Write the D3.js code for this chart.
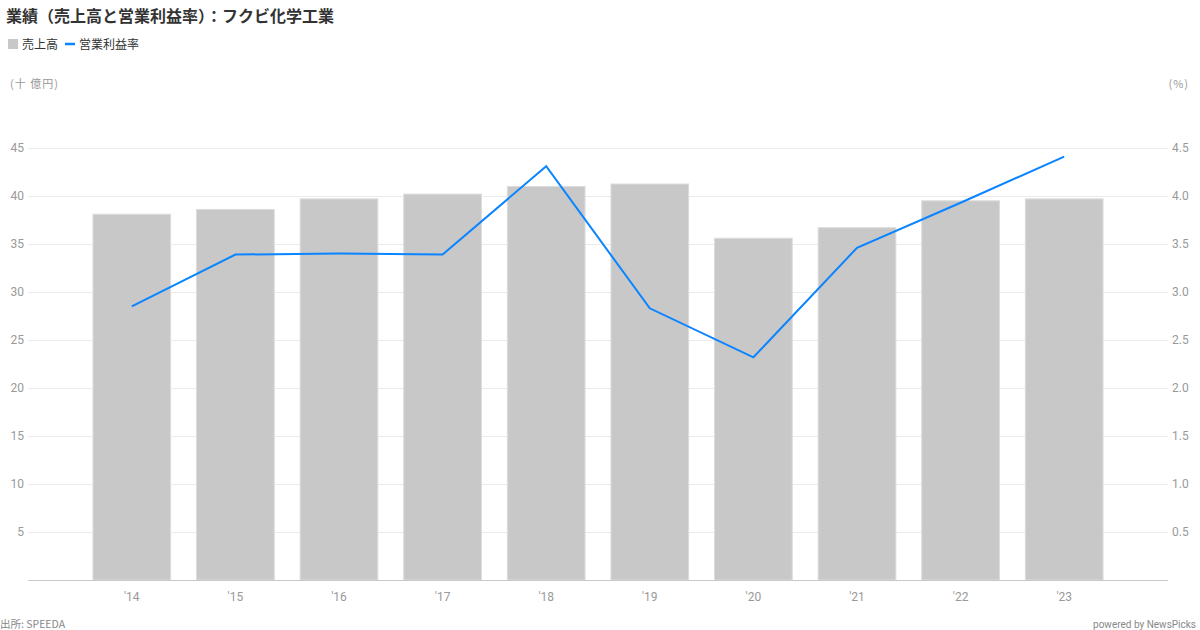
<!DOCTYPE html>
<html><head><meta charset="utf-8">
<script src="https://cdn.jsdelivr.net/npm/d3@7"></script>
<style>
html,body{margin:0;padding:0;background:#fff;}
svg{display:block;font-family:"Noto Sans CJK JP","Noto Sans",sans-serif;}
</style></head>
<body>
<svg id="c" width="1200" height="630"></svg>
<script>
const categories = ["'14","'15","'16","'17","'18","'19","'20","'21","'22","'23"];
const sales = [38.1, 38.6, 39.7, 40.2, 41.0, 41.25, 35.6, 36.7, 39.5, 39.7];
const margin = [2.85, 3.39, 3.40, 3.39, 4.31, 2.83, 2.32, 3.46, 3.93, 4.41];
const leftTicks = [5,10,15,20,25,30,35,40,45];
const rightTicks = [0.5,1.0,1.5,2.0,2.5,3.0,3.5,4.0,4.5];

const svg = d3.select("#c");
const x = d3.scaleBand().domain(categories).range([80,1116]).paddingInner(0.25).paddingOuter(0.125);
const yL = d3.scaleLinear().domain([0,45]).range([580,148]);
const yR = d3.scaleLinear().domain([0,4.5]).range([580,148]);

// title
svg.append("text").attr("x",6).attr("y",22).attr("font-size",16).attr("font-weight","bold").attr("fill","#333")
  .text("業績（売上高と営業利益率）：フクビ化学工業");
// legend
svg.append("rect").attr("x",8).attr("y",39).attr("width",10).attr("height",10).attr("fill","#c8c8c8");
svg.append("text").attr("x",22).attr("y",49).attr("font-size",12).attr("fill","#333").text("売上高");
svg.append("line").attr("x1",65).attr("x2",75).attr("y1",44).attr("y2",44).attr("stroke","#0a84ff").attr("stroke-width",2.5);
svg.append("text").attr("x",79).attr("y",49).attr("font-size",12).attr("fill","#333").text("営業利益率");
// units
svg.append("text").attr("x",10).attr("y",88).attr("font-size",11).attr("fill","#999").attr("letter-spacing",1).text("(十 億円)");
svg.append("text").attr("x",1189).attr("y",88).attr("text-anchor","end").attr("font-size",11).attr("fill","#999").attr("letter-spacing",1).text("(%)");

// grid
svg.append("g").selectAll("line").data(leftTicks).join("line")
  .attr("x1",28).attr("x2",1168).attr("y1",d=>yL(d)+0.5).attr("y2",d=>yL(d)+0.5)
  .attr("stroke","#ebebeb").attr("stroke-width",1);

// left axis
const gl = svg.append("g").attr("transform","translate(24,0)")
  .call(d3.axisLeft(yL).tickValues(leftTicks).tickSize(0).tickPadding(0).tickFormat(d3.format("d")));
gl.select(".domain").remove();
gl.selectAll("text").attr("font-size",12).attr("fill","#999").attr("font-family","Roboto,'Noto Sans',sans-serif");

// right axis
const gr = svg.append("g").attr("transform","translate(1172,0)")
  .call(d3.axisRight(yR).tickValues(rightTicks).tickSize(0).tickPadding(0).tickFormat(d3.format(".1f")));
gr.select(".domain").remove();
gr.selectAll("text").attr("font-size",12).attr("fill","#999").attr("font-family","Roboto,'Noto Sans',sans-serif");

// bars
svg.append("g").selectAll("rect").data(categories).join("rect")
  .attr("x",d=>x(d)).attr("width",x.bandwidth())
  .attr("y",(d,i)=>yL(sales[i])).attr("height",(d,i)=>580-yL(sales[i]))
  .attr("fill","#c8c8c8").attr("stroke","#dcdcdc").attr("stroke-width",1);

// baseline
svg.append("line").attr("x1",28).attr("x2",1168).attr("y1",580.5).attr("y2",580.5).attr("stroke","#c8c8c8");

// x axis
const gx = svg.append("g").attr("transform","translate(0,592)")
  .call(d3.axisBottom(x).tickSize(0).tickPadding(0));
gx.select(".domain").remove();
gx.selectAll("text").attr("font-size",12).attr("fill","#999").attr("font-family","Roboto,'Noto Sans',sans-serif");

// line
const line = d3.line().x((d,i)=>x(categories[i])+x.bandwidth()/2).y(d=>yR(d));
svg.append("path").datum(margin).attr("d",line).attr("fill","none")
  .attr("stroke","#0a84ff").attr("stroke-width",2).attr("stroke-linejoin","miter");

// footer
svg.append("text").attr("x",0).attr("y",628).attr("font-size",10.5).attr("fill","#888").text("出所: SPEEDA");
svg.append("text").attr("x",1196).attr("y",628).attr("text-anchor","end").attr("font-size",10).attr("fill","#888")
  .attr("font-family","Roboto,'Noto Sans',sans-serif").text("powered by NewsPicks");
</script>
</body></html>
